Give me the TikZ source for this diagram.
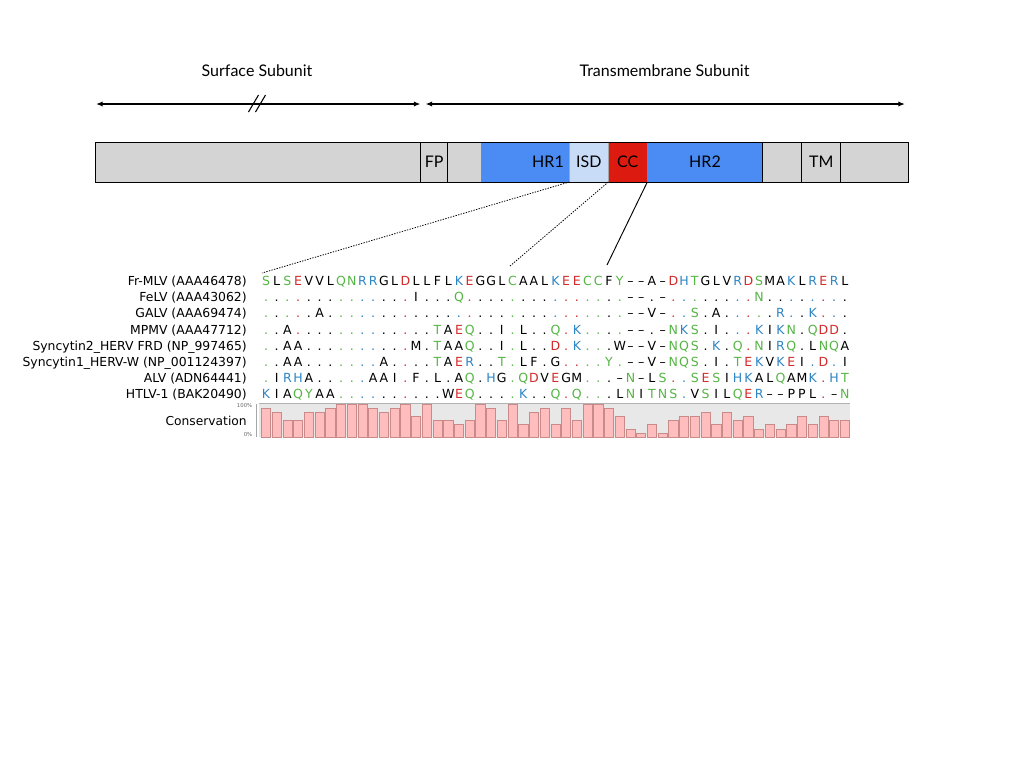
\documentclass[tikz,border=0pt]{standalone}
\usepackage{fontspec}
\setmainfont{Lato}
\newfontfamily\alnfont{DejaVu Sans}
\usetikzlibrary{arrows.meta,fit}
\definecolor{segGrey}{HTML}{D4D4D4}
\definecolor{hrBlue}{HTML}{4A8CF4}
\definecolor{isdBlue}{HTML}{C9DCF7}
\definecolor{ccRed}{HTML}{DD1A10}
\definecolor{resGreen}{HTML}{55B545}
\definecolor{resRed}{HTML}{D42B2B}
\definecolor{resBlue}{HTML}{2D85C5}
\definecolor{barPink}{HTML}{FFBDBD}
\definecolor{barEdge}{HTML}{C98A8A}
\definecolor{bandGrey}{HTML}{E8E8E8}
% residue classes
\def\setcls#1#2{\expandafter\def\csname cls#1\endcsname{#2}}
\setcls{S}{resGreen}\setcls{T}{resGreen}\setcls{N}{resGreen}\setcls{Q}{resGreen}\setcls{C}{resGreen}\setcls{Y}{resGreen}
\setcls{D}{resRed}\setcls{E}{resRed}
\setcls{K}{resBlue}\setcls{R}{resBlue}\setcls{H}{resBlue}
\setcls{A}{black}\setcls{V}{black}\setcls{L}{black}\setcls{I}{black}\setcls{M}{black}\setcls{F}{black}\setcls{W}{black}\setcls{G}{black}\setcls{P}{black}\setcls{-}{black}
\def\dotch{.}
\def\gapch{-}
\newcommand\colx[1]{266+(#1-1)*10.72}
\newcommand\rowy[1]{285.5+(#1-1)*16.2}
\newcommand\putres[3]{%
  \edef\tmpch{#3}%
  \ifx\tmpch\dotch
    \edef\tmpcol{\csname cls\csname refc#2\endcsname\endcsname}%
    \node[res, text=\tmpcol] (r#1c#2) at ({\colx{#2}}, {\rowy{#1}}) {.};%
  \else\ifx\tmpch\gapch
    \node[res] (r#1c#2) at ({\colx{#2}}, {\rowy{#1}}) {\textendash};%
  \else
    \edef\tmpcol{\csname cls#3\endcsname}%
    \node[res, text=\tmpcol] (r#1c#2) at ({\colx{#2}}, {\rowy{#1}}) {#3};%
  \fi\fi}
\begin{document}
\begin{tikzpicture}[x=0.75pt,y=-0.75pt,
  res/.style={anchor=base, inner sep=0pt, font=\alnfont\fontsize{9.4}{10}\selectfont},
  lab/.style={anchor=base east, inner sep=0pt, font=\alnfont\fontsize{9.3}{10}\selectfont},
  seg/.style={inner sep=0pt, outer sep=0pt, draw=none},
  segtext/.style={inner sep=0pt, font=\fontsize{12}{14}\selectfont},
  title/.style={inner sep=0pt, font=\fontsize{12}{14}\selectfont},
  span/.style={line width=1.1pt, {Latex[length=5pt,width=4pt]}-{Latex[length=5pt,width=4pt]}},
  cbar/.style={fill=barPink, draw=barEdge, line width=0.5pt}]
\path[use as bounding box, fill=white] (0,0) rectangle (1024,768);

% titles and spans
\node[title] (surf) at (257,71) {Surface Subunit};
\node[title] (tmsub) at (664.5,71) {Transmembrane Subunit};
\coordinate (sL) at (96,104);
\coordinate (sR) at (420.5,104);
\coordinate (tL) at (425.5,104);
\coordinate (tR) at (905,104);
\draw[span] (sL) -- (sR);
\draw[span] (tL) -- (tR);
\draw[line width=0.8pt] (248.5,112) -- (258.5,95);
\draw[line width=0.8pt] (255.5,112) -- (265.5,95);

% domain bar
\node[seg, fill=segGrey, fit={(95,142)(420.7,182)}] (s1) {};
\node[seg, fill=segGrey, fit={(420.7,142)(447.7,182)}] (fp) {};
\node[seg, fill=segGrey, fit={(447.7,142)(480.7,182)}] (s2) {};
\node[seg, fill=hrBlue, fit={(480.7,142)(569.3,182)}] (hr1) {};
\node[seg, fill=isdBlue, fit={(569.3,142)(608.3,182)}] (isd) {};
\node[seg, fill=ccRed, fit={(608.3,142)(647.3,182)}] (cc) {};
\node[seg, fill=hrBlue, fit={(647.3,142)(762.7,182)}] (hr2) {};
\node[seg, fill=segGrey, fit={(762.7,142)(801.7,182)}] (s3) {};
\node[seg, fill=segGrey, fit={(801.7,142)(840.7,182)}] (tmseg) {};
\node[seg, fill=segGrey, fit={(840.7,142)(908.3,182)}] (s4) {};
\draw[gray!70, line width=0.7pt] (isd.north west) rectangle (isd.south east);
\draw[line width=0.6pt] (s1.north west) rectangle (s4.south east);
\foreach \s in {fp,s2,s3,tmseg,s4}{\draw[line width=0.6pt] (\s.north west) -- (\s.south west);}
\node[segtext] (fplab) at (fp.center) {FP};
\node[segtext] (hr1lab) at (548,162) {HR1};
\node[segtext] (isdlab) at (isd.center) {ISD};
\node[segtext] (cclab) at (cc.center) {CC};
\node[segtext] (hr2lab) at (705,162) {HR2};
\node[segtext] (tmlab) at (tmseg.center) {TM};

% alignment
\foreach \ch [count=\i] in {S,L,S,E,V,V,L,Q,N,R,R,G,L,D,L,L,F,L,K,E,G,G,L,C,A,A,L,K,E,E,C,C,F,Y,-,-,A,-,D,H,T,G,L,V,R,D,S,M,A,K,L,R,E,R,L}{
  \expandafter\xdef\csname refc\i\endcsname{\ch}
  \putres{1}{\i}{\ch}
}
\foreach \ch [count=\i] in {.,.,.,.,.,.,.,.,.,., .,.,.,.,I,.,.,.,Q,., .,.,.,.,.,.,.,.,.,., .,.,.,.,-,-,.,-,.,., .,.,.,.,.,.,N,.,.,., .,.,.,.,.}{\putres{2}{\i}{\ch}}
\foreach \ch [count=\i] in {.,.,.,.,.,A,.,.,.,., .,.,.,.,.,.,.,.,.,., .,.,.,.,.,.,.,.,.,., .,.,.,.,-,-,V,-,.,., S,.,A,.,.,.,.,.,R,., .,K,.,.,.}{\putres{3}{\i}{\ch}}
\foreach \ch [count=\i] in {.,.,A,.,.,.,.,.,.,., .,.,.,.,.,.,T,A,E,Q, .,.,I,.,L,.,.,Q,.,K, .,.,.,.,-,-,.,-,N,K, S,.,I,.,.,.,K,I,K,N, .,Q,D,D,.}{\putres{4}{\i}{\ch}}
\foreach \ch [count=\i] in {.,.,A,A,.,.,.,.,.,., .,.,.,.,M,.,T,A,A,Q, .,.,I,.,L,.,.,D,.,K, .,.,.,W,-,-,V,-,N,Q, S,.,K,.,Q,.,N,I,R,Q, .,L,N,Q,A}{\putres{5}{\i}{\ch}}
\foreach \ch [count=\i] in {.,.,A,A,.,.,.,.,.,., .,A,.,.,.,.,T,A,E,R, .,.,T,.,L,F,.,G,.,., .,.,Y,.,-,-,V,-,N,Q, S,.,I,.,T,E,K,V,K,E, I,.,D,.,I}{\putres{6}{\i}{\ch}}
\foreach \ch [count=\i] in {.,I,R,H,A,.,.,.,.,., A,A,I,.,F,.,L,.,A,Q, .,H,G,.,Q,D,V,E,G,M, .,.,.,-,N,-,L,S,.,., S,E,S,I,H,K,A,L,Q,A, M,K,.,H,T}{\putres{7}{\i}{\ch}}
\foreach \ch [count=\i] in {K,I,A,Q,Y,A,A,.,.,., .,.,.,.,.,.,.,W,E,Q, .,.,.,.,K,.,.,Q,.,Q, .,.,.,L,N,I,T,N,S,., V,S,I,L,Q,E,R,-,-,P, P,L,.,-,N}{\putres{8}{\i}{\ch}}

% row labels
\node[lab] (l1) at (247,{\rowy{1}}) {Fr-MLV (AAA46478)};
\node[lab] (l2) at (247,{\rowy{2}}) {FeLV (AAA43062)};
\node[lab] (l3) at (247,{\rowy{3}}) {GALV (AAA69474)};
\node[lab] (l4) at (247,{\rowy{4}}) {MPMV (AAA47712)};
\node[lab] (l5) at (247,{\rowy{5}}) {Syncytin2\_HERV FRD (NP\_997465)};
\node[lab] (l6) at (247,{\rowy{6}}) {Syncytin1\_HERV-W (NP\_001124397)};
\node[lab] (l7) at (247,{\rowy{7}}) {ALV (ADN64441)};
\node[lab] (l8) at (247,{\rowy{8}}) {HTLV-1 (BAK20490)};

% conservation
\fill[bandGrey] (259,403.5) rectangle (850,437);
\draw[gray!60, line width=0.5pt] (259,403.5) -- (850,403.5);
\draw[gray!70, line width=0.4pt] (256.5,404) -- (256.5,437);
\foreach \n [count=\i] in {7,6,4,4,6,6,7,8,8,8,7,6,7,8,5,8,4,4,3,4,8,7,4,8,3,6,7,3,7,4,8,8,7,5,2,1,3,1,4,5,5,6,3,6,4,5,2,3,2,3,5,3,5,4,4}{
  \filldraw[cbar] ({\colx{\i}-4.6},437) rectangle ++(9.2,{-\n*32.7/8});
}
\node[anchor=east, inner sep=0pt, font=\alnfont\fontsize{9.2}{10}\selectfont] (cons) at (247,421) {Conservation};
\node[anchor=east, inner sep=0pt, text=gray!80!black, font=\alnfont\fontsize{4}{5}\selectfont] (p100) at (252.5,405.5) {100\%};
\node[anchor=east, inner sep=0pt, text=gray!80!black, font=\alnfont\fontsize{4}{5}\selectfont] (p0) at (252.5,434.5) {0\%};

% zoom connectors
\coordinate (a1) at (262,273);
\coordinate (a2) at (510,266);
\coordinate (a3) at (607,265);
\draw[line width=0.6pt, dash pattern=on 1pt off 1pt] (isd.south west) -- (a1);
\draw[line width=0.6pt, dash pattern=on 1pt off 1pt] (isd.south east) -- (a2);
\draw[line width=0.7pt] (cc.south east) -- (a3);
\end{tikzpicture}
\end{document}
